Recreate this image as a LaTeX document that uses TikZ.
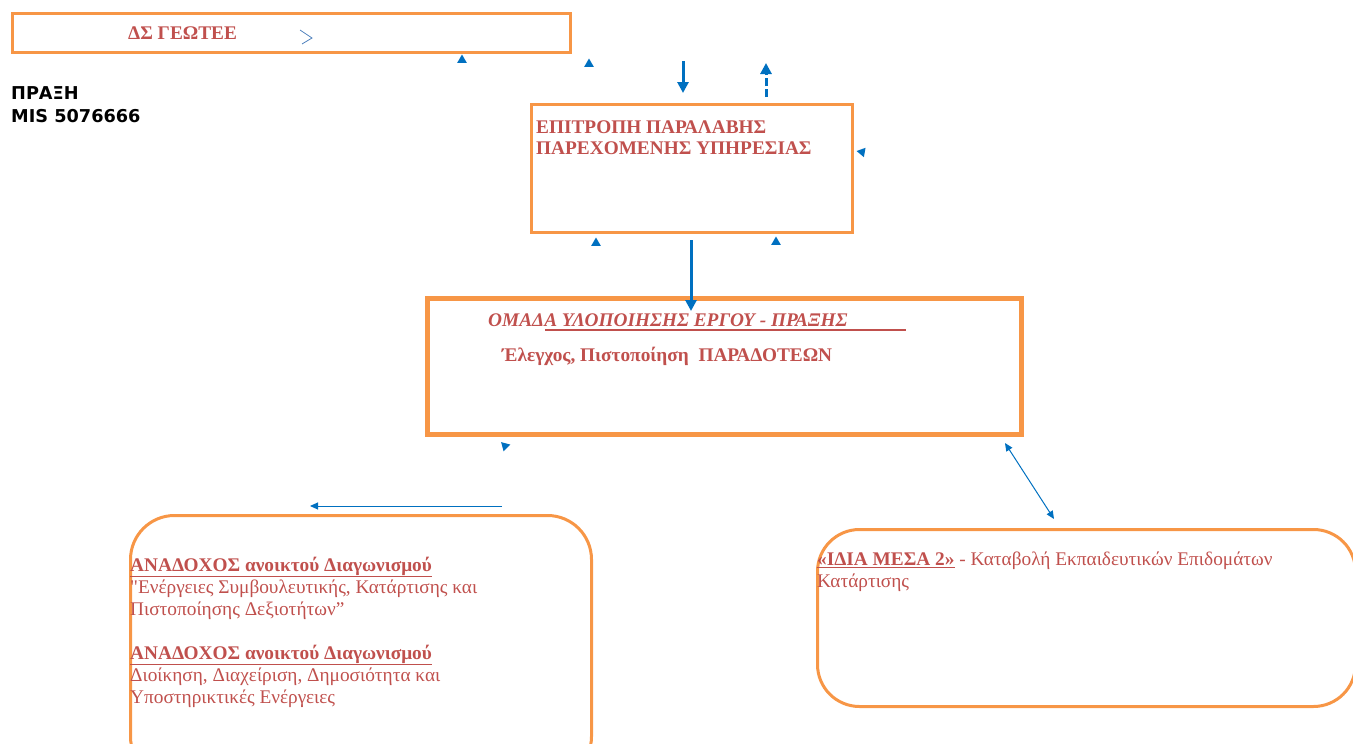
\documentclass[tikz,border=0pt]{standalone}
\usepackage{fontspec}
\setmainfont{Liberation Serif}[Ligatures=TeXOff]
\newfontfamily\verd{DejaVu Sans}
\usetikzlibrary{shapes.geometric,arrows.meta}
\definecolor{orng}{HTML}{F79646}
\definecolor{txtred}{HTML}{C0504D}
\definecolor{blu}{HTML}{0070C0}
\definecolor{lblu}{HTML}{4F81BD}
\begin{document}
\begin{tikzpicture}[x=1pt,y=-1pt,
  box/.style={draw=orng, line width=3pt, inner sep=0pt, outer sep=0pt, anchor=north west},
  lbl/.style={anchor=north west, inner sep=0pt, align=left, text=txtred},
  tri/.style={regular polygon, regular polygon sides=3, fill=blu, inner sep=0pt, minimum size=11pt},
  bigarrow/.style={draw=blu, line width=3pt, -{Triangle[length=11pt,width=11pt]}},
  thinarrow/.style={draw=blu, line width=1pt, -{Triangle[length=8pt,width=7pt]}}
]
\useasboundingbox (0,0) rectangle (1353,744);
\clip (0,0) rectangle (1353,744);

% boxes
\node[box, minimum width=558pt, minimum height=39pt] (ds) at (12.5,13.5) {};
\node[box, minimum width=321pt, minimum height=128pt] (epi) at (531.5,104.5) {};
\node[box, line width=5pt, minimum width=594pt, minimum height=136pt] (om) at (427.5,298.5) {};
\node[box, rounded corners=44pt, minimum width=461pt, minimum height=265pt] (ana) at (130.5,515.5) {};
\node[box, rounded corners=42pt, minimum width=538pt, minimum height=177pt] (idia) at (817.5,529.5) {};

% texts
\node[lbl, font=\bfseries\fontsize{19.3}{22}\selectfont] (dstxt) at (128,26.5) {ΔΣ ΓΕΩΤΕΕ};
\node[anchor=north west, inner sep=0pt, align=left, font=\verd\bfseries\fontsize{17.7}{23}\selectfont] (praxi) at (11,86) {ΠΡΑΞΗ\\MIS 5076666};
\node[lbl, font=\bfseries\fontsize{19.3}{21}\selectfont] (epitxt) at (536,120.5) {ΕΠΙΤΡΟΠΗ ΠΑΡΑΛΑΒΗΣ\\ΠΑΡΕΧΟΜΕΝΗΣ ΥΠΗΡΕΣΙΑΣ};
\node[lbl, font=\bfseries\itshape\fontsize{19.3}{22}\selectfont] (omtxt) at (488,313.5) {ΟΜΑΔΑ ΥΛΟΠΟΙΗΣΗΣ ΕΡΓΟΥ - ΠΡΑΞΗΣ};
\coordinate (ul1) at (545,330);
\coordinate (ul2) at (906,330);
\draw[txtred, line width=1.2pt] (ul1) -- (ul2);
\node[lbl, font=\bfseries\fontsize{19.3}{22}\selectfont] (eltxt) at (502,346.5) {Έλεγχος, Πιστοποίηση~~ΠΑΡΑΔΟΤΕΩΝ};
\node[lbl, font=\fontsize{19.3}{22}\selectfont] (anatxt) at (130,556.5) {\textbf{\underline{ΑΝΑΔΟΧΟΣ ανοικτού Διαγωνισμού}}\\"Ενέργειες Συμβουλευτικής, Κατάρτισης και\\Πιστοποίησης Δεξιοτήτων”\\[22pt]\textbf{\underline{ΑΝΑΔΟΧΟΣ ανοικτού Διαγωνισμού}}\\Διοίκηση, Διαχείριση, Δημοσιότητα και\\Υποστηρικτικές Ενέργειες};
\node[lbl, font=\fontsize{19.3}{22}\selectfont] (idtxt) at (817,551.5) {\textbf{\underline{«ΙΔΙΑ ΜΕΣΑ 2»}} - Καταβολή Εκπαιδευτικών Επιδομάτων\\Κατάρτισης};

% chevron inside top box
\draw[lblu, line width=0.8pt] (300,30) -- (312,38) -- (302,44);

% lone arrowheads
\node[tri] (t1) at (462,60) {};
\node[tri] (t2) at (589,64) {};
\node[tri, rotate=200] (t3) at (862,152) {};
\node[tri] (t4) at (596,243) {};
\node[tri] (t5) at (776,242) {};
\node[tri, rotate=165] (t6) at (505,446) {};

% arrows
\coordinate (a1s) at (683,61);
\coordinate (a1e) at (683,93);
\draw[bigarrow] (a1s) -- (a1e);
\coordinate (a2s) at (766,97);
\coordinate (a2e) at (766,63);
\draw[bigarrow, dash pattern=on 8pt off 3pt] (a2s) -- (a2e);
\coordinate (a3s) at (691,240);
\coordinate (a3e) at (691,311);
\draw[bigarrow] (a3s) -- (a3e);
\coordinate (a4s) at (502,506);
\coordinate (a4e) at (310,506);
\draw[thinarrow] (a4s) -- (a4e);
\coordinate (a5s) at (1005,443);
\coordinate (a5e) at (1054,519);
\draw[thinarrow, {Triangle[length=8pt,width=7pt]}-{Triangle[length=8pt,width=7pt]}] (a5s) -- (a5e);
\end{tikzpicture}
\end{document}
